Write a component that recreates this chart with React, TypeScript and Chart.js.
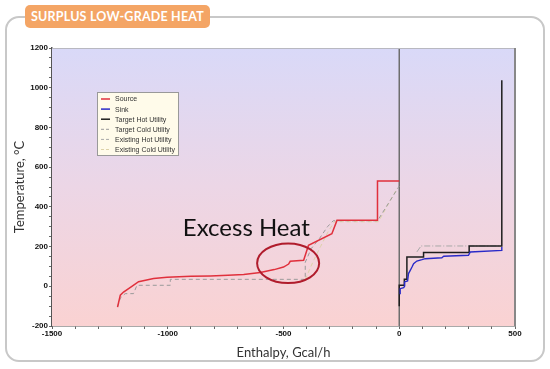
import React, { useEffect, useRef } from "react";
import { Chart, registerables } from "chart.js";

Chart.register(...registerables);

// ---- data ----
const xTicksMajor = [-1500, -1000, -500, 0, 500];
const yTicksMajor = [-200, 0, 200, 400, 600, 800, 1000, 1200];

const sourcePts: [number, number][] = [
  [-1217, -105], [-1205, -45], [-1191, -29], [-1155, 0], [-1126, 23], [-1061, 39],
  [-1003, 46], [-900, 50], [-816, 52], [-740, 55], [-672, 59], [-600, 69], [-540, 84],
  [-500, 97], [-478, 112], [-471, 126], [-413, 131], [-399, 181], [-392, 206],
  [-291, 265], [-269, 332], [-94, 332], [-94, 530], [0, 530],
];

const sinkPts: [number, number][] = [
  [4, -40], [4, -12], [19, -7], [23, 0], [23, 22], [36, 27], [40, 64], [48, 81],
  [55, 97], [62, 114], [76, 127], [98, 134], [112, 139], [184, 144], [192, 151],
  [299, 156], [307, 173], [443, 181], [443, 198],
];

const targetHotPts: [number, number][] = [
  [0, -100], [0, 5], [22, 5], [22, 35], [33, 35], [33, 148], [105, 148], [105, 170],
  [302, 170], [302, 203], [443, 203], [443, 265], [443, 1037],
];

const targetColdPts: [number, number][] = [
  [-1217, -104], [-1205, -60], [-1184, -37], [-1148, -37], [-1133, 5], [-989, 5],
  [-989, 35], [-406, 35], [-406, 121], [-380, 190], [-345, 240], [-310, 300],
  [-285, 330], [-94, 330], [0, 505],
];

const existingHotPts: [number, number][] = [
  [76, 173], [91, 198], [91, 203], [443, 203],
];

const existingColdPts: [number, number][] = [
  [-406, 35], [-370, 130], [-340, 200], [-305, 280], [-280, 325], [-90, 325], [-8, 495],
];

const seriesNames = [
  "Source", "Sink", "Target Hot Utility", "Target Cold Utility",
  "Existing Hot Utility", "Existing Cold Utility",
];
const seriesColors = ["#e0303c", "#2a2ac8", "#1e1e1e", "#9a9a9a", "#a8a8a8", "#ddd2a8"];
const seriesDash: number[][] = [[], [], [], [4, 3], [6, 2, 1, 2], [4, 3]];
const seriesWidth = [1.5, 1.4, 1.5, 1, 1, 1];
const seriesPts = [sourcePts, sinkPts, targetHotPts, targetColdPts, existingHotPts, existingColdPts];

const annotationText = "Excess Heat";
const annotationAt = { x: -935, y: 292 };
const ellipseCenter = { x: -480, y: 116 };
const ellipseRadius = { x: 134, y: 100 };

export default function App() {
  const ref = useRef<HTMLCanvasElement | null>(null);

  useEffect(() => {
    if (!ref.current) return;

    const bgPlugin = {
      id: "bg",
      beforeDatasetsDraw(chart: any) {
        const { ctx, chartArea: a } = chart;
        const g = ctx.createLinearGradient(0, a.top, 0, a.bottom);
        g.addColorStop(0, "#d9d9f8");
        g.addColorStop(0.5, "#ecd6e6");
        g.addColorStop(1, "#fad2d2");
        ctx.save();
        ctx.fillStyle = g;
        ctx.fillRect(a.left, a.top, a.right - a.left, a.bottom - a.top);
        // zero line
        const x0 = chart.scales.x.getPixelForValue(0);
        ctx.strokeStyle = "#6e6e6e";
        ctx.lineWidth = 1.5;
        ctx.beginPath();
        ctx.moveTo(x0, a.top);
        ctx.lineTo(x0, a.bottom);
        ctx.stroke();
        ctx.restore();
      },
      afterDatasetsDraw(chart: any) {
        const { ctx, chartArea: a, scales } = chart;
        ctx.save();
        // frame
        ctx.strokeStyle = "#b8b8c0";
        ctx.lineWidth = 1;
        ctx.beginPath();
        ctx.moveTo(a.left, a.top + 0.5);
        ctx.lineTo(a.right, a.top + 0.5);
        ctx.stroke();
        ctx.strokeStyle = "#888";
        ctx.lineWidth = 2;
        ctx.beginPath();
        ctx.moveTo(a.right, a.top);
        ctx.lineTo(a.right, a.bottom);
        ctx.stroke();

        // annotation text
        ctx.fillStyle = "#111";
        ctx.font = "24px Lato, 'Open Sans', sans-serif";
        ctx.textBaseline = "middle";
        ctx.textAlign = "left";
        ctx.fillText(annotationText, scales.x.getPixelForValue(annotationAt.x), scales.y.getPixelForValue(annotationAt.y));

        // ellipse
        const cx = scales.x.getPixelForValue(ellipseCenter.x);
        const cy = scales.y.getPixelForValue(ellipseCenter.y);
        const rx = Math.abs(scales.x.getPixelForValue(ellipseCenter.x + ellipseRadius.x) - cx);
        const ry = Math.abs(scales.y.getPixelForValue(ellipseCenter.y + ellipseRadius.y) - cy);
        ctx.strokeStyle = "#b01c2c";
        ctx.lineWidth = 2;
        ctx.beginPath();
        ctx.ellipse(cx, cy, rx, ry, 0, 0, Math.PI * 2);
        ctx.stroke();

        // legend
        const lx = a.left + 45;
        const ly = a.top + 44;
        const lw = 81;
        const lh = 63;
        ctx.fillStyle = "#fffbea";
        ctx.fillRect(lx, ly, lw, lh);
        ctx.strokeStyle = "#999";
        ctx.lineWidth = 1;
        ctx.strokeRect(lx + 0.5, ly + 0.5, lw, lh);
        ctx.font = "7px 'Liberation Sans', Arial, sans-serif";
        ctx.textBaseline = "middle";
        seriesNames.forEach((name, i) => {
          const yy = ly + 7 + i * 10.1;
          ctx.strokeStyle = seriesColors[i];
          ctx.lineWidth = i < 3 ? 1.5 : 1;
          ctx.setLineDash(seriesDash[i].length ? [3, 2] : []);
          ctx.beginPath();
          ctx.moveTo(lx + 4, yy);
          ctx.lineTo(lx + 13, yy);
          ctx.stroke();
          ctx.setLineDash([]);
          ctx.fillStyle = "#333";
          ctx.fillText(name, lx + 18, yy + 0.5);
        });
        ctx.restore();
      },
    };

    const chart = new Chart(ref.current, {
      type: "line",
      data: {
        datasets: seriesNames.map((name, i) => ({
          label: name,
          data: seriesPts[i].map(([x, y]) => ({ x, y })),
          borderColor: seriesColors[i],
          borderWidth: seriesWidth[i],
          borderDash: seriesDash[i],
          pointRadius: 0,
          tension: 0,
          fill: false,
        })),
      },
      options: {
        animation: false,
        responsive: false,
        maintainAspectRatio: false,
        layout: { padding: { left: 0, top: 48, right: 35, bottom: 0 } },
        plugins: { legend: { display: false }, tooltip: { enabled: false } },
        scales: {
          x: {
            type: "linear",
            min: -1500,
            max: 500,
            afterFit: (s: any) => { s.height = 43; },
            border: { color: "#555", width: 1.5 },
            grid: { color: "transparent", tickColor: "#666", tickLength: 3, drawOnChartArea: false },
            ticks: {
              stepSize: 100,
              autoSkip: false,
              maxRotation: 0,
              padding: 0,
              color: "#111",
              font: { family: "'Liberation Sans', Arial", size: 8, weight: "bold" },
              callback: (v: any) => (xTicksMajor.includes(Number(v)) ? String(v) : ""),
            },
            title: {
              display: true,
              text: "Enthalpy, Gcal/h",
              color: "#333",
              font: { family: "Lato, 'Open Sans', sans-serif", size: 13 },
              padding: { top: 0, bottom: 8 },
            },
          },
          y: {
            type: "linear",
            min: -200,
            max: 1200,
            afterFit: (s: any) => { s.width = 52; },
            border: { color: "#555", width: 1.5 },
            grid: { color: "transparent", tickColor: "#666", tickLength: 3, drawOnChartArea: false },
            ticks: {
              stepSize: 50,
              autoSkip: false,
              padding: 1,
              color: "#111",
              font: { family: "'Liberation Sans', Arial", size: 8, weight: "bold" },
              callback: (v: any) => (yTicksMajor.includes(Number(v)) ? String(v) : ""),
            },
            title: {
              display: true,
              text: "Temperature, °C",
              color: "#333",
              font: { family: "Lato, 'Open Sans', sans-serif", size: 13 },
              padding: { top: 12, bottom: 0 },
            },
          },
        },
      },
      plugins: [bgPlugin],
    } as any);

    return () => chart.destroy();
  }, []);

  return (
    <div style={{ position: "fixed", left: 0, top: 0, width: 550, height: 369, background: "#fff", overflow: "hidden" }}>
      <div
        style={{
          position: "absolute", left: 5, top: 16, width: 536, height: 342,
          border: "2px solid #c8c8c8", borderRadius: 14, boxSizing: "content-box",
        }}
      />
      <canvas ref={ref} width={550} height={369} style={{ position: "absolute", left: 0, top: 0 }} />
      <div
        style={{
          position: "absolute", left: 25, top: 5, width: 185, height: 23, background: "#f4a565",
          borderRadius: 5, color: "#fff", fontFamily: "Lato, 'Open Sans', sans-serif", fontWeight: 700,
          fontSize: 12.5, lineHeight: "23px", textAlign: "center", letterSpacing: 0.2,
        }}
      >
        SURPLUS LOW-GRADE HEAT
      </div>
    </div>
  );
}
